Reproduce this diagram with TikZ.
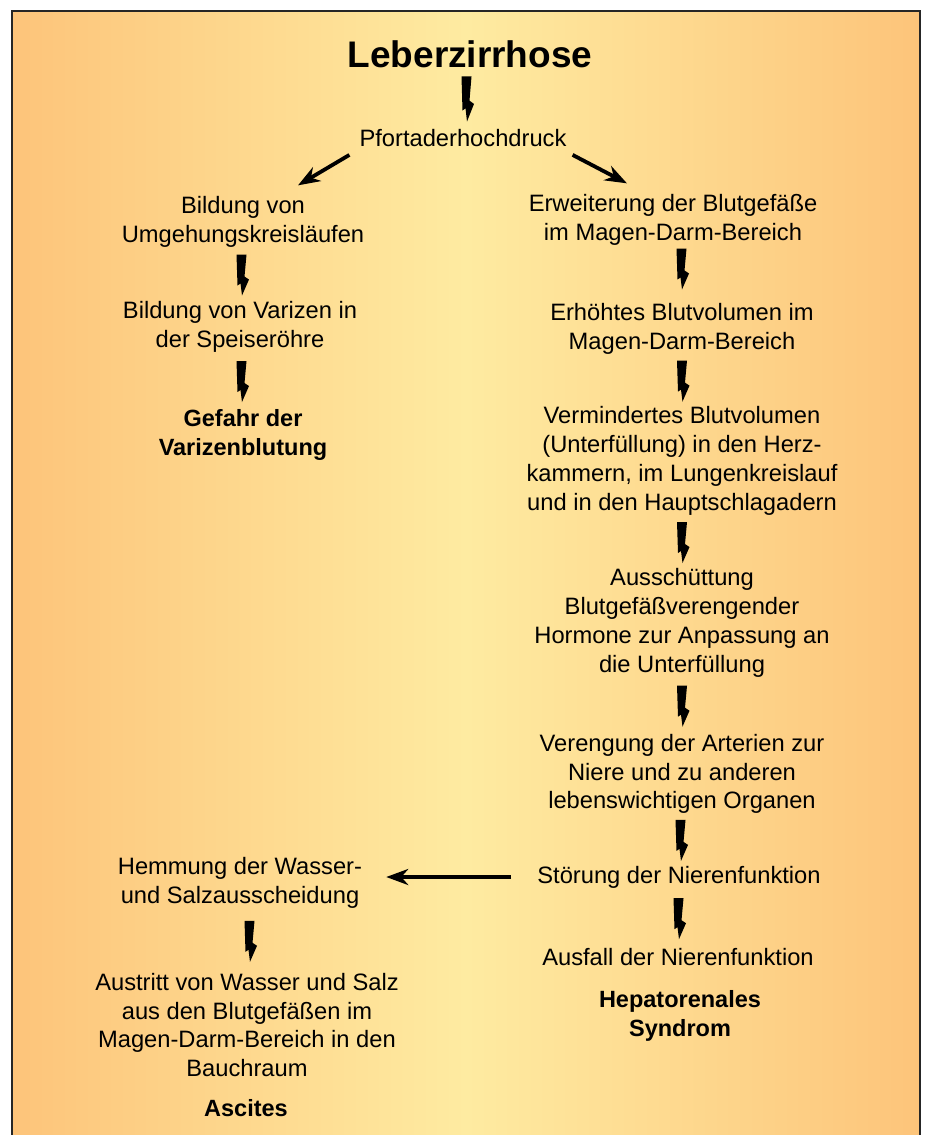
\documentclass[tikz,border=0pt]{standalone}
\usepackage{fontspec}
\setmainfont{Liberation Sans}
\usetikzlibrary{arrows.meta, calc}

\definecolor{bgorange}{HTML}{FDC47A}
\definecolor{bgyellow}{HTML}{FEEBA1}

\begin{document}
\begin{tikzpicture}[x=1pt, y=-1pt,
		every node/.style={align=center, inner sep=2pt, font=\fontsize{23.7}{28.8}\selectfont},
		result/.style={font=\fontsize{23.5}{28.8}\selectfont\bfseries},
		fat/.style={line width=3.8pt, -{Stealth[length=22pt, width=16pt, inset=7pt]}},
		bolt/.pic={\fill[black] (-5,-20) -- (5,-20) -- (3,2) -- (7.5,5) -- (0.5,21) -- (-1,9) -- (-4,11) -- cycle;}]
		\useasboundingbox (0,0) rectangle (924,1135);
		\shade[left color=bgorange, right color=bgorange, middle color=bgyellow] (12,11) rectangle (920,1150);
		\draw[line width=1.6pt, black!85] (12,11) rectangle (920,1150);

		\node (lz) [font=\fontsize{37}{40}\selectfont\bfseries] at (470,54) {Leberzirrhose};
		\node (pfort) at (463,138) {Pfortaderhochdruck};
		% linker Ast
		\node (umg) at (243,222) {Bildung von\\Umgehungskreisläufen};
		\node (var) at (240,327) {Bildung von Varizen in\\der Speiseröhre};
		\node (gef) [result] at (243,435) {Gefahr der\\Varizenblutung};
		% rechter Ast
		\node (erw) at (673,220) {Erweiterung der Blutgefäße\\im Magen-Darm-Bereich};
		\node (erh) at (682,329) {Erhöhtes Blutvolumen im\\Magen-Darm-Bereich};
		\node (verm) at (682,461) {Vermindertes Blutvolumen\\(Unterfüllung) in den Herz-\\kammern, im Lungenkreislauf\\und in den Hauptschlagadern};
		\node (horm) at (682,623) {Ausschüttung\\Blutgefäßverengender\\Hormone zur Anpassung an\\die Unterfüllung};
		\node (arter) at (682,774) {Verengung der Arterien zur\\Niere und zu anderen\\lebenswichtigen Organen};
		\node (stoer) at (679,877) {Störung der Nierenfunktion};
		\node (ausf) at (678,957) {Ausfall der Nierenfunktion};
		\node (hep) [result] at (680,1016) {Hepatorenales\\Syndrom};
		% Ascites
		\node (hemm) at (240,883) {Hemmung der Wasser-\\und Salzausscheidung};
		\node (austr) at (247,1025) {Austritt von Wasser und Salz\\aus den Blutgefäßen im\\Magen-Darm-Bereich in den\\Bauchraum};
		\node (asc) [result] at (246,1108) {Ascites};

		\pic[yscale=1.1] at ($(lz.south)!.5!(pfort.north)$) {bolt};
		\draw[fat] ($(pfort.south west)+(-8,6)$) -- ($(umg.north)+(55,-9)$);
		\draw[fat] ($(pfort.south east)+(4,6)$) -- ($(erw.north)+(-46,-9)$);
		\pic at ($(umg.south)!.5!(var.north)$) {bolt};
		\pic at ($(var.south)!.5!(gef.north)$) {bolt};
		\pic[xshift=4pt, yshift=6pt] at ($(erw.south)!.5!(erh.north)$) {bolt};
		\pic at ($(erh.south)!.5!(verm.north)$) {bolt};
		\pic at ($(verm.south)!.5!(horm.north)$) {bolt};
		\pic at ($(horm.south)!.5!(arter.north)$) {bolt};
		\pic at ($(arter.south)!.5!(stoer.north)$) {bolt};
		\pic at ($(stoer.south)!.5!(ausf.north)$) {bolt};
		\draw[fat, shorten <=24pt, shorten >=22pt] (stoer.west) -- (stoer.west -| hemm.east);
		\pic[xshift=6pt] at ($(hemm.south)!.5!(austr.north)$) {bolt};
\end{tikzpicture}
\end{document}
